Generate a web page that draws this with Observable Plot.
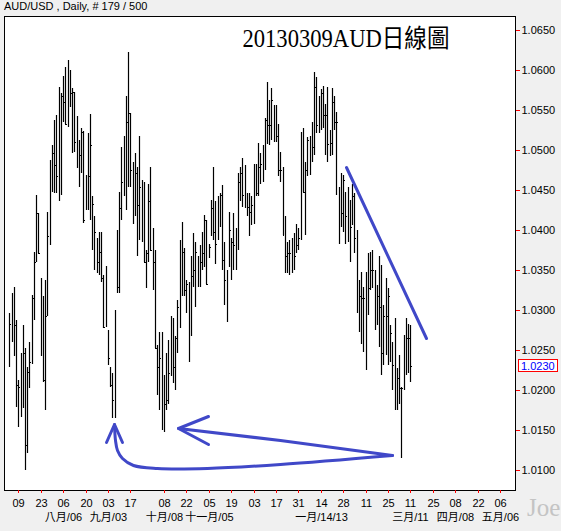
<!DOCTYPE html>
<html><head><meta charset="utf-8">
<script src="https://cdn.jsdelivr.net/npm/d3@7"></script>
<script src="https://cdn.jsdelivr.net/npm/@observablehq/plot@0.6"></script>
<style>
html,body{margin:0;padding:0;background:#f0f0f0;}
#wrap{position:relative;width:561px;height:531px;overflow:hidden;background:#f0f0f0;}
#hdr{position:absolute;left:4px;top:0px;line-height:15px;font:11px "Liberation Sans",Arial,sans-serif;color:#000;white-space:nowrap;}
#joe{position:absolute;left:527px;top:494px;line-height:28px;font:25px "Liberation Serif",serif;color:#c4c4c4;}
</style></head><body>
<div id="wrap"><div id="chart"></div><div id="hdr">AUD/USD , Daily, # 179 / 500</div><div id="joe">Joe</div></div>
<script>
const titleText = "20130309AUD日線圖";
const headerText = "AUD/USD , Daily, # 179 / 500";

const highs = [
1.0296,1.0321,1.0329,1.0288,1.0213,1.0246,1.0281,1.0252,1.0229,1.0260,
1.0319,1.0373,1.0444,1.0421,1.0340,1.0317,1.0338,1.0423,1.0488,1.0506,
1.0538,1.0544,1.0579,1.0571,1.0592,1.0604,1.0613,1.0600,1.0577,1.0573,
1.0542,1.0513,1.0528,1.0524,1.0469,1.0521,1.0545,1.0442,1.0417,1.0390,
1.0398,1.0398,1.0344,1.0355,1.0275,1.0229,1.0221,1.0300,1.0400,1.0448,
1.0504,1.0517,1.0567,1.0623,1.0546,1.0485,1.0496,1.0479,1.0517,1.0463,
1.0460,1.0375,1.0458,1.0479,1.0402,1.0375,1.0256,1.0273,1.0273,1.0219,
1.0246,1.0263,1.0292,1.0290,1.0267,1.0313,1.0388,1.0410,1.0377,1.0338,
1.0335,1.0367,1.0396,1.0385,1.0367,1.0381,1.0398,1.0419,1.0413,1.0383,
1.0438,1.0479,1.0436,1.0442,1.0446,1.0456,1.0385,1.0350,1.0423,1.0390,
1.0421,1.0402,1.0471,1.0479,1.0490,1.0481,1.0446,1.0446,1.0442,1.0483,
1.0483,1.0509,1.0496,1.0506,1.0540,1.0585,1.0563,1.0577,1.0556,1.0556,
1.0533,1.0498,1.0479,1.0417,1.0385,1.0388,1.0390,1.0396,1.0408,1.0402,
1.0523,1.0527,1.0485,1.0516,1.0517,1.0535,1.0598,1.0591,1.0567,1.0576,
1.0580,1.0558,1.0579,1.0525,1.0578,1.0567,1.0548,1.0454,1.0471,1.0469,
1.0448,1.0454,1.0438,1.0458,1.0446,1.0400,1.0338,1.0348,1.0329,1.0348,
1.0371,1.0373,1.0375,1.0350,1.0331,1.0367,1.0356,1.0306,1.0340,1.0327,
1.0281,1.0260,1.0290,1.0227,1.0244,1.0204,1.0269,1.0290,1.0283,1.0281];

const lows = [
1.0229,1.0260,1.0242,1.0179,1.0154,1.0166,1.0177,1.0100,1.0121,1.0202,
1.0233,1.0288,1.0360,1.0371,1.0242,1.0210,1.0175,1.0292,1.0381,1.0448,
1.0446,1.0446,1.0436,1.0444,1.0535,1.0533,1.0529,1.0554,1.0496,1.0498,
1.0477,1.0454,1.0471,1.0409,1.0425,1.0425,1.0413,1.0375,1.0350,1.0346,
1.0344,1.0335,1.0277,1.0279,1.0231,1.0204,1.0165,1.0165,1.0321,1.0321,
1.0413,1.0442,1.0425,1.0454,1.0454,1.0408,1.0417,1.0367,1.0388,1.0385,
1.0360,1.0327,1.0360,1.0375,1.0325,1.0252,1.0194,1.0175,1.0150,1.0148,
1.0175,1.0183,1.0217,1.0209,1.0200,1.0246,1.0277,1.0317,1.0317,1.0296,
1.0235,1.0267,1.0329,1.0304,1.0329,1.0329,1.0350,1.0354,1.0333,1.0365,
1.0392,1.0388,1.0358,1.0388,1.0404,1.0350,1.0306,1.0285,1.0354,1.0338,
1.0350,1.0350,1.0375,1.0436,1.0429,1.0427,1.0417,1.0392,1.0406,1.0408,
1.0442,1.0442,1.0458,1.0460,1.0475,1.0508,1.0506,1.0513,1.0510,1.0510,
1.0467,1.0460,1.0394,1.0346,1.0346,1.0344,1.0346,1.0350,1.0371,1.0375,
1.0388,1.0448,1.0394,1.0467,1.0469,1.0485,1.0494,1.0521,1.0521,1.0525,
1.0527,1.0494,1.0485,1.0492,1.0494,1.0525,1.0444,1.0383,1.0404,1.0398,
1.0383,1.0385,1.0360,1.0406,1.0371,1.0296,1.0273,1.0258,1.0248,1.0225,
1.0294,1.0325,1.0327,1.0275,1.0281,1.0254,1.0219,1.0231,1.0244,1.0231,
1.0235,1.0200,1.0175,1.0175,1.0183,1.0115,1.0200,1.0219,1.0221,1.0210];

const closes = [
1.0283,1.0263,1.0281,1.0206,1.0204,1.0185,1.0246,1.0131,1.0223,1.0235,
1.0315,1.0360,1.0421,1.0371,1.0271,1.0213,1.0292,1.0392,1.0477,1.0496,
1.0481,1.0467,1.0456,1.0567,1.0560,1.0533,1.0554,1.0571,1.0573,1.0510,
1.0485,1.0494,1.0523,1.0413,1.0448,1.0467,1.0506,1.0433,1.0398,1.0360,
1.0372,1.0340,1.0279,1.0313,1.0240,1.0206,1.0188,1.0281,1.0329,1.0427,
1.0460,1.0513,1.0535,1.0546,1.0475,1.0450,1.0471,1.0431,1.0454,1.0419,
1.0360,1.0371,1.0436,1.0375,1.0360,1.0252,1.0229,1.0240,1.0183,1.0183,
1.0188,1.0221,1.0256,1.0229,1.0265,1.0304,1.0375,1.0373,1.0325,1.0333,
1.0267,1.0342,1.0350,1.0373,1.0338,1.0360,1.0371,1.0413,1.0333,1.0379,
1.0427,1.0398,1.0383,1.0423,1.0444,1.0363,1.0338,1.0338,1.0400,1.0385,
1.0381,1.0377,1.0460,1.0471,1.0444,1.0471,1.0429,1.0423,1.0431,1.0479,
1.0446,1.0479,1.0483,1.0485,1.0538,1.0531,1.0531,1.0563,1.0554,1.0517,
1.0475,1.0475,1.0394,1.0367,1.0371,1.0371,1.0365,1.0367,1.0381,1.0390,
1.0492,1.0448,1.0475,1.0513,1.0513,1.0504,1.0579,1.0531,1.0563,1.0571,
1.0544,1.0544,1.0508,1.0509,1.0560,1.0535,1.0535,1.0421,1.0421,1.0463,
1.0417,1.0431,1.0404,1.0442,1.0390,1.0317,1.0317,1.0315,1.0315,1.0258,
1.0327,1.0350,1.0350,1.0302,1.0317,1.0304,1.0246,1.0292,1.0292,1.0317,
1.0271,1.0231,1.0227,1.0215,1.0202,1.0202,1.0265,1.0265,1.0265,1.0230];

// tick labels (positions in trading-day index)
const dayIdx = [4,14,24,34,44,54,69,79,89,99,109,119,129,139,149,159,169,179,189,199,209,219];
const dayLabels = ["09","23","06","20","03","17","08","22","05","19","03","17","31","14","28","11","25","11","25","08","22","06"];
const monthIdx = [24,44,69,89,139,179,199,219];
const monthLabels = ["八月/06","九月/03","十月/08","十一月/05","一月/14/13","三月/11","四月/08","五月/06"];
const yTicks = [1.0100,1.0150,1.0200,1.0250,1.0300,1.0350,1.0400,1.0450,1.0500,1.0550,1.0600,1.0650];

// hand-drawn annotations (index, price)
const trendX = [150.1, 185.8];
const trendY = [1.0479, 1.0265];
const curveX = [170.7, 120.8, 88.1, 65.8, 55.3, 50.2, 47.9, 47.2, 46.7];
const curveY = [1.0119, 1.0108, 1.0103, 1.0102, 1.0106, 1.0115, 1.0125, 1.0138, 1.0158];
const head1X = [43.1, 46.7, 50.4];
const head1Y = [1.0135, 1.0158, 1.0135];
const upperX = [170.7, 120.8, 75.4];
const upperY = [1.0119, 1.0138, 1.0153];
const head2X = [88.8, 75.4, 88.8];
const head2Y = [1.0168, 1.0153, 1.0133];

const bars = closes.map((c, i) => ({i, high: highs[i], low: lows[i], close: c}));
const pts = (xs, ys) => xs.map((x, i) => [x, ys[i]]);
const dayMap = new Map(dayIdx.map((d, i) => [d, dayLabels[i]]));
const monthMap = new Map(monthIdx.map((d, i) => [d, monthLabels[i]]));
const blue = "#4048c8";
const sans = '"Liberation Sans","Noto Sans CJK TC",Arial,sans-serif';

const plot = Plot.plot({
  width: 561, height: 531,
  marginLeft: 4, marginRight: 46, marginTop: 16, marginBottom: 41,
  style: {background: "transparent", fontFamily: sans, fontSize: "11px", color: "black"},
  x: {domain: [-2.38, 225.7], round: true, label: null},
  y: {domain: [1.0075, 1.06675], round: true, label: null},
  marks: [
    Plot.frame({fill: "white", stroke: null}),
    Plot.ruleX(bars, {x: "i", y1: "low", y2: "high", stroke: "black", strokeWidth: 1.2}),
    Plot.ruleY(bars, {y: "close", x1: "i", x2: d => d.i + 0.8, stroke: "black", strokeWidth: 1.2}),
    Plot.line(pts(trendX, trendY), {stroke: blue, strokeWidth: 3}),
    Plot.line(pts(curveX, curveY), {stroke: blue, strokeWidth: 3, curve: "catmull-rom"}),
    Plot.line(pts(head1X, head1Y), {stroke: blue, strokeWidth: 3}),
    Plot.line(pts(upperX, upperY), {stroke: blue, strokeWidth: 3}),
    Plot.line(pts(head2X, head2Y), {stroke: blue, strokeWidth: 3}),
    Plot.text([titleText], {frameAnchor: "top-left", dx: 238, dy: 13, textAnchor: "start", lineAnchor: "top",
      fontSize: 25, fontFamily: '"Liberation Serif","Noto Sans CJK TC",serif', fill: "black"}),
    Plot.frame({stroke: "black", strokeWidth: 1}),
    Plot.axisY({ticks: yTicks, anchor: "right", tickSize: 4, tickPadding: 2, tickFormat: d => d.toFixed(4),
      stroke: "#ff0000", fill: "black", fontSize: 11, label: null}),
    Plot.axisX({ticks: dayIdx, anchor: "bottom", tickSize: 3, tickPadding: 6, tickFormat: d => dayMap.get(d),
      stroke: "#ff0000", fill: "black", fontSize: 11, label: null}),
    Plot.axisX({ticks: monthIdx, anchor: "bottom", tickSize: 0, tickPadding: 23, tickFormat: d => monthMap.get(d),
      fill: "black", fontSize: 11, label: null})
  ]
});
document.getElementById("chart").appendChild(plot);

const svg = d3.select(plot);
svg.selectAll("text").filter(function() { return this.textContent === titleText; })
  .attr("textLength", 207).attr("lengthAdjust", "spacingAndGlyphs");

const lastClose = closes[closes.length - 1];
const py = Math.round(plot.scale("y").apply(lastClose));
const g = svg.append("g").attr("text-anchor", "start");
g.append("rect").attr("x", 518.5).attr("y", py - 6.5).attr("width", 39).attr("height", 12)
  .attr("fill", "white").attr("stroke", "#ff0000").attr("stroke-width", 1);
g.append("text").attr("x", 521).attr("y", py + 4).attr("fill", "#0000ff").attr("text-anchor", "start")
  .attr("font-size", 11).attr("font-family", sans).text(lastClose.toFixed(4));
</script>
</body></html>
